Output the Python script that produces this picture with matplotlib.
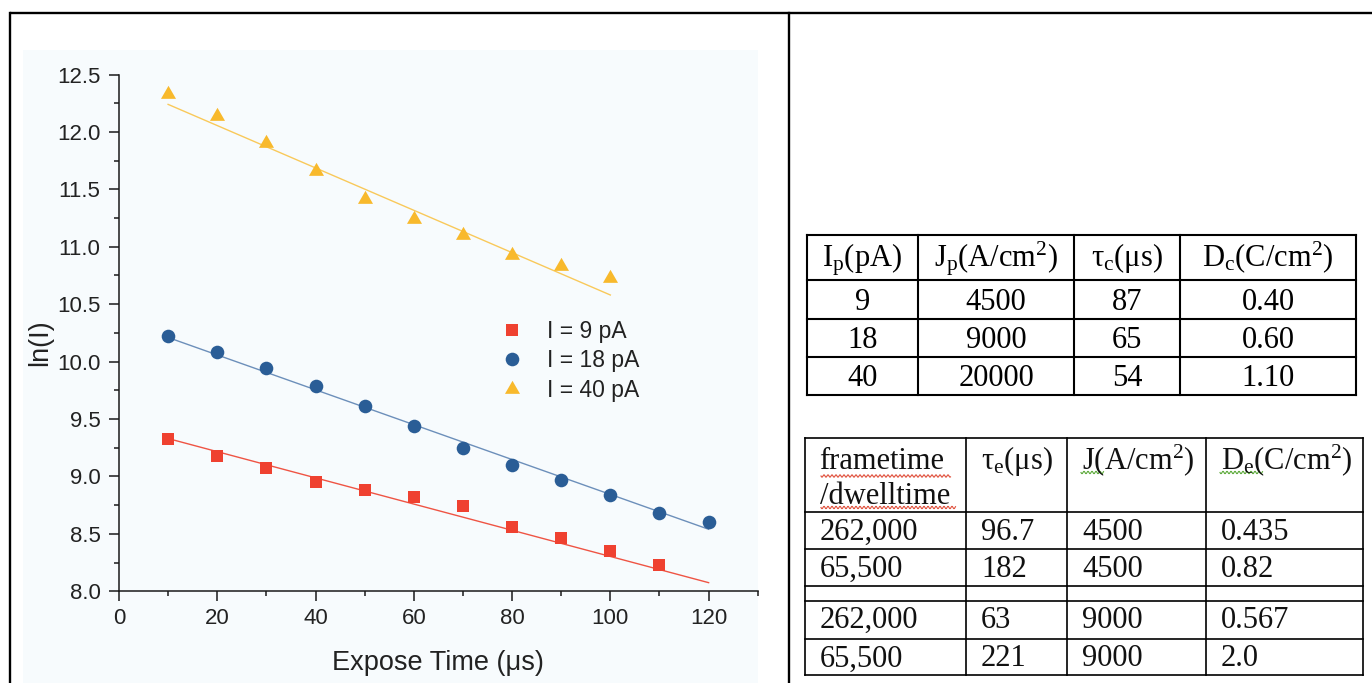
import numpy as np
import matplotlib
matplotlib.use("Agg")
import matplotlib.pyplot as plt
from matplotlib.ticker import MultipleLocator, FormatStrFormatter
from matplotlib.patches import Rectangle

# ln(I) against expose time
exposeTime9 = [10, 20, 30, 40, 50, 60, 70, 80, 90, 100, 110]
lnI9 = [9.33, 9.18, 9.07, 8.95, 8.88, 8.82, 8.74, 8.56, 8.46, 8.35, 8.23]

exposeTime18 = [10, 20, 30, 40, 50, 60, 70, 80, 90, 100, 110, 120]
lnI18 = [10.22, 10.08, 9.94, 9.79, 9.61, 9.44, 9.25, 9.10, 8.97, 8.84, 8.68, 8.60]

exposeTime40 = [10, 20, 30, 40, 50, 60, 70, 80, 90, 100]
lnI40 = [12.33, 12.14, 11.90, 11.66, 11.42, 11.24, 11.10, 10.93, 10.83, 10.73]

# Fitted lines (start and end of each line as drawn)
fitX9, fitY9 = [10, 120], [9.33, 8.075]
fitX18, fitY18 = [10, 120], [10.21, 8.54]
fitX40, fitY40 = [10, 100], [12.24, 10.58]

seriesLabels = ["I = 9 pA", "I = 18 pA", "I = 40 pA"]

# Table 1: peak current, current density, tau, dose
table1Header = [r"$\mathregular{I_p(pA)}$", r"$\mathregular{J_p(A/cm^2)}$",
                r"$\mathregular{τ_c(μs)}$", r"$\mathregular{D_c(C/cm^2)}$"]
peakCurrent = ["9", "18", "40"]
peakDensity = ["4500", "9000", "20000"]
tauC = ["87", "65", "54"]
doseC = ["0.40", "0.60", "1.10"]

# Table 2: frametime/dwelltime experiments (blank spacer row in the middle)
table2Header = ["frametime\n/dwelltime", r"$\mathregular{τ_e(μs)}$",
                r"$\mathregular{J(A/cm^2)}$", r"$\mathregular{D_e(C/cm^2)}$"]
frameRatio = ["262,000", "65,500", "", "262,000", "65,500"]
tauE = ["96.7", "182", "", "63", "221"]
densityE = ["4500", "4500", "", "9000", "9000"]
doseE = ["0.435", "0.82", "", "0.567", "2.0"]

redColor, redLine = "#EF4130", "#EF5444"
blueColor, blueLine = "#2A5D96", "#6C8FBA"
yellowColor, yellowLine = "#F8B92C", "#F9C95A"

sansFont = "Liberation Sans"
serifFont = "Liberation Serif"

fig = plt.figure(figsize=(13.72, 6.83), dpi=100)

# Page overlay in pixel units for the frame, panel background and tables
page = fig.add_axes([0, 0, 1, 1])
page.set_xlim(0, 1372)
page.set_ylim(683, 0)
page.axis("off")

page.add_patch(Rectangle((23, 50), 735, 633, facecolor="#F7FBFD", edgecolor="none"))
page.plot([9.5, 1372], [12.5, 12.5], color="black", lw=1.7, solid_capstyle="butt")
page.plot([9.5, 9.5], [12.5, 683], color="black", lw=1.7)
page.plot([788.7, 788.7], [12.5, 683], color="black", lw=1.7)


def drawGrid(colEdges, rowEdges, lw):
    for x in colEdges:
        page.plot([x, x], [rowEdges[0], rowEdges[-1]], color="black", lw=lw, solid_capstyle="projecting")
    for y in rowEdges:
        page.plot([colEdges[0], colEdges[-1]], [y, y], color="black", lw=lw, solid_capstyle="projecting")


# Table 1 (centred text)
t1Cols = [806.5, 918, 1074, 1180, 1356]
t1Rows = [235, 280, 319, 356.5, 395]
drawGrid(t1Cols, t1Rows, 1.5)
t1Baselines = [266, 309.5, 348, 386]
table1Body = list(zip(peakCurrent, peakDensity, tauC, doseC))
for c, label in enumerate(table1Header):
    cx = (t1Cols[c] + t1Cols[c + 1]) / 2
    page.text(cx, t1Baselines[0], label, ha="center", va="baseline", fontsize=22, family=serifFont)
for r, row in enumerate(table1Body):
    for c, value in enumerate(row):
        cx = (t1Cols[c] + t1Cols[c + 1]) / 2
        page.text(cx, t1Baselines[r + 1], value, ha="center", va="baseline", fontsize=22, family=serifFont)

# Table 2 (left aligned text)
t2Cols = [804.5, 966, 1067, 1206, 1363]
t2Rows = [438, 512, 549, 586, 601, 639, 675]
drawGrid(t2Cols, t2Rows, 1.2)
headerBaselines = [469, 504]
for c, label in enumerate(table2Header):
    for i, line in enumerate(label.split("\n")):
        page.text(t2Cols[c] + 15, headerBaselines[i], line, ha="left", va="baseline",
                  fontsize=22, family=serifFont, color="#111111")
t2Baselines = [540, 577, None, 628, 666.5]
table2Body = list(zip(frameRatio, tauE, densityE, doseE))
for r, row in enumerate(table2Body):
    if t2Baselines[r] is None:
        continue
    for c, value in enumerate(row):
        page.text(t2Cols[c] + 15, t2Baselines[r], value, ha="left", va="baseline",
                  fontsize=22, family=serifFont, color="#111111")


# Spell-check squiggles under the header words
def squiggle(x0, x1, y, color):
    xs = np.arange(x0, x1, 0.5)
    page.plot(xs, y + 1.2 * np.sin((xs - x0) * np.pi / 2), color=color, lw=0.8)


squiggle(821, 951, 476, "#E0503C")
squiggle(821, 956, 507.5, "#E0503C")
squiggle(1081, 1104, 472.5, "#5DAA3A")
squiggle(1220, 1263, 472.5, "#5DAA3A")

# Chart
ax = fig.add_axes([0.0867, 0.1343, 0.4656, 0.7566])
ax.set_facecolor("none")

ax.plot(fitX9, fitY9, color=redLine, lw=1.0)
ax.plot(fitX18, fitY18, color=blueLine, lw=1.0)
ax.plot(fitX40, fitY40, color=yellowLine, lw=1.0)

ax.plot(exposeTime9, lnI9, linestyle="none", marker="s", markersize=9.0, color=redColor,
        markeredgewidth=0, label=seriesLabels[0])
ax.plot(exposeTime18, lnI18, linestyle="none", marker="o", markersize=9.8, color=blueColor,
        markeredgewidth=0, label=seriesLabels[1])
ax.plot(exposeTime40, lnI40, linestyle="none", marker=(3, 0, 0), markersize=12.5, color=yellowColor,
        markeredgewidth=0, label=seriesLabels[2])

ax.set_xlim(0, 130)
ax.set_ylim(8.0, 12.5)
ax.xaxis.set_major_locator(MultipleLocator(20))
ax.xaxis.set_minor_locator(MultipleLocator(10))
ax.yaxis.set_major_locator(MultipleLocator(0.5))
ax.yaxis.set_minor_locator(MultipleLocator(0.25))
ax.yaxis.set_major_formatter(FormatStrFormatter("%.1f"))
ax.set_xticks([0, 20, 40, 60, 80, 100, 120])

for side in ["top", "right"]:
    ax.spines[side].set_visible(False)
for side in ["left", "bottom"]:
    ax.spines[side].set_linewidth(1.1)
    ax.spines[side].set_color("#1a1a1a")

ax.tick_params(which="major", direction="out", length=7.2, width=1.1, color="#1a1a1a",
               labelsize=16, labelcolor="#222222")
ax.tick_params(which="minor", direction="out", length=3.4, width=1.1, color="#1a1a1a")
ax.tick_params(axis="y", which="major", pad=6)
ax.tick_params(axis="x", which="major", pad=5)
for lbl in ax.get_xticklabels() + ax.get_yticklabels():
    lbl.set_family(sansFont)

ax.set_xlabel("Expose Time (μs)", fontsize=19.5, family=sansFont, color="#222222")
ax.set_ylabel("ln(I)", fontsize=19.5, family=sansFont, color="#222222")
ax.xaxis.label.set_verticalalignment("center")
ax.yaxis.label.set_verticalalignment("center")
ax.xaxis.set_label_coords(0.5, -0.1387)
ax.yaxis.set_label_coords(-0.1237, 0.482)

ax.legend(loc="upper left", bbox_to_anchor=(0.5969, 0.5244), frameon=False,
          prop={"family": sansFont, "size": 16.5}, handlelength=1.0, handletextpad=1.03,
          labelspacing=0.27, borderpad=0, borderaxespad=0, numpoints=1, labelcolor="#222222")

fig.savefig("out.png", dpi=100)
